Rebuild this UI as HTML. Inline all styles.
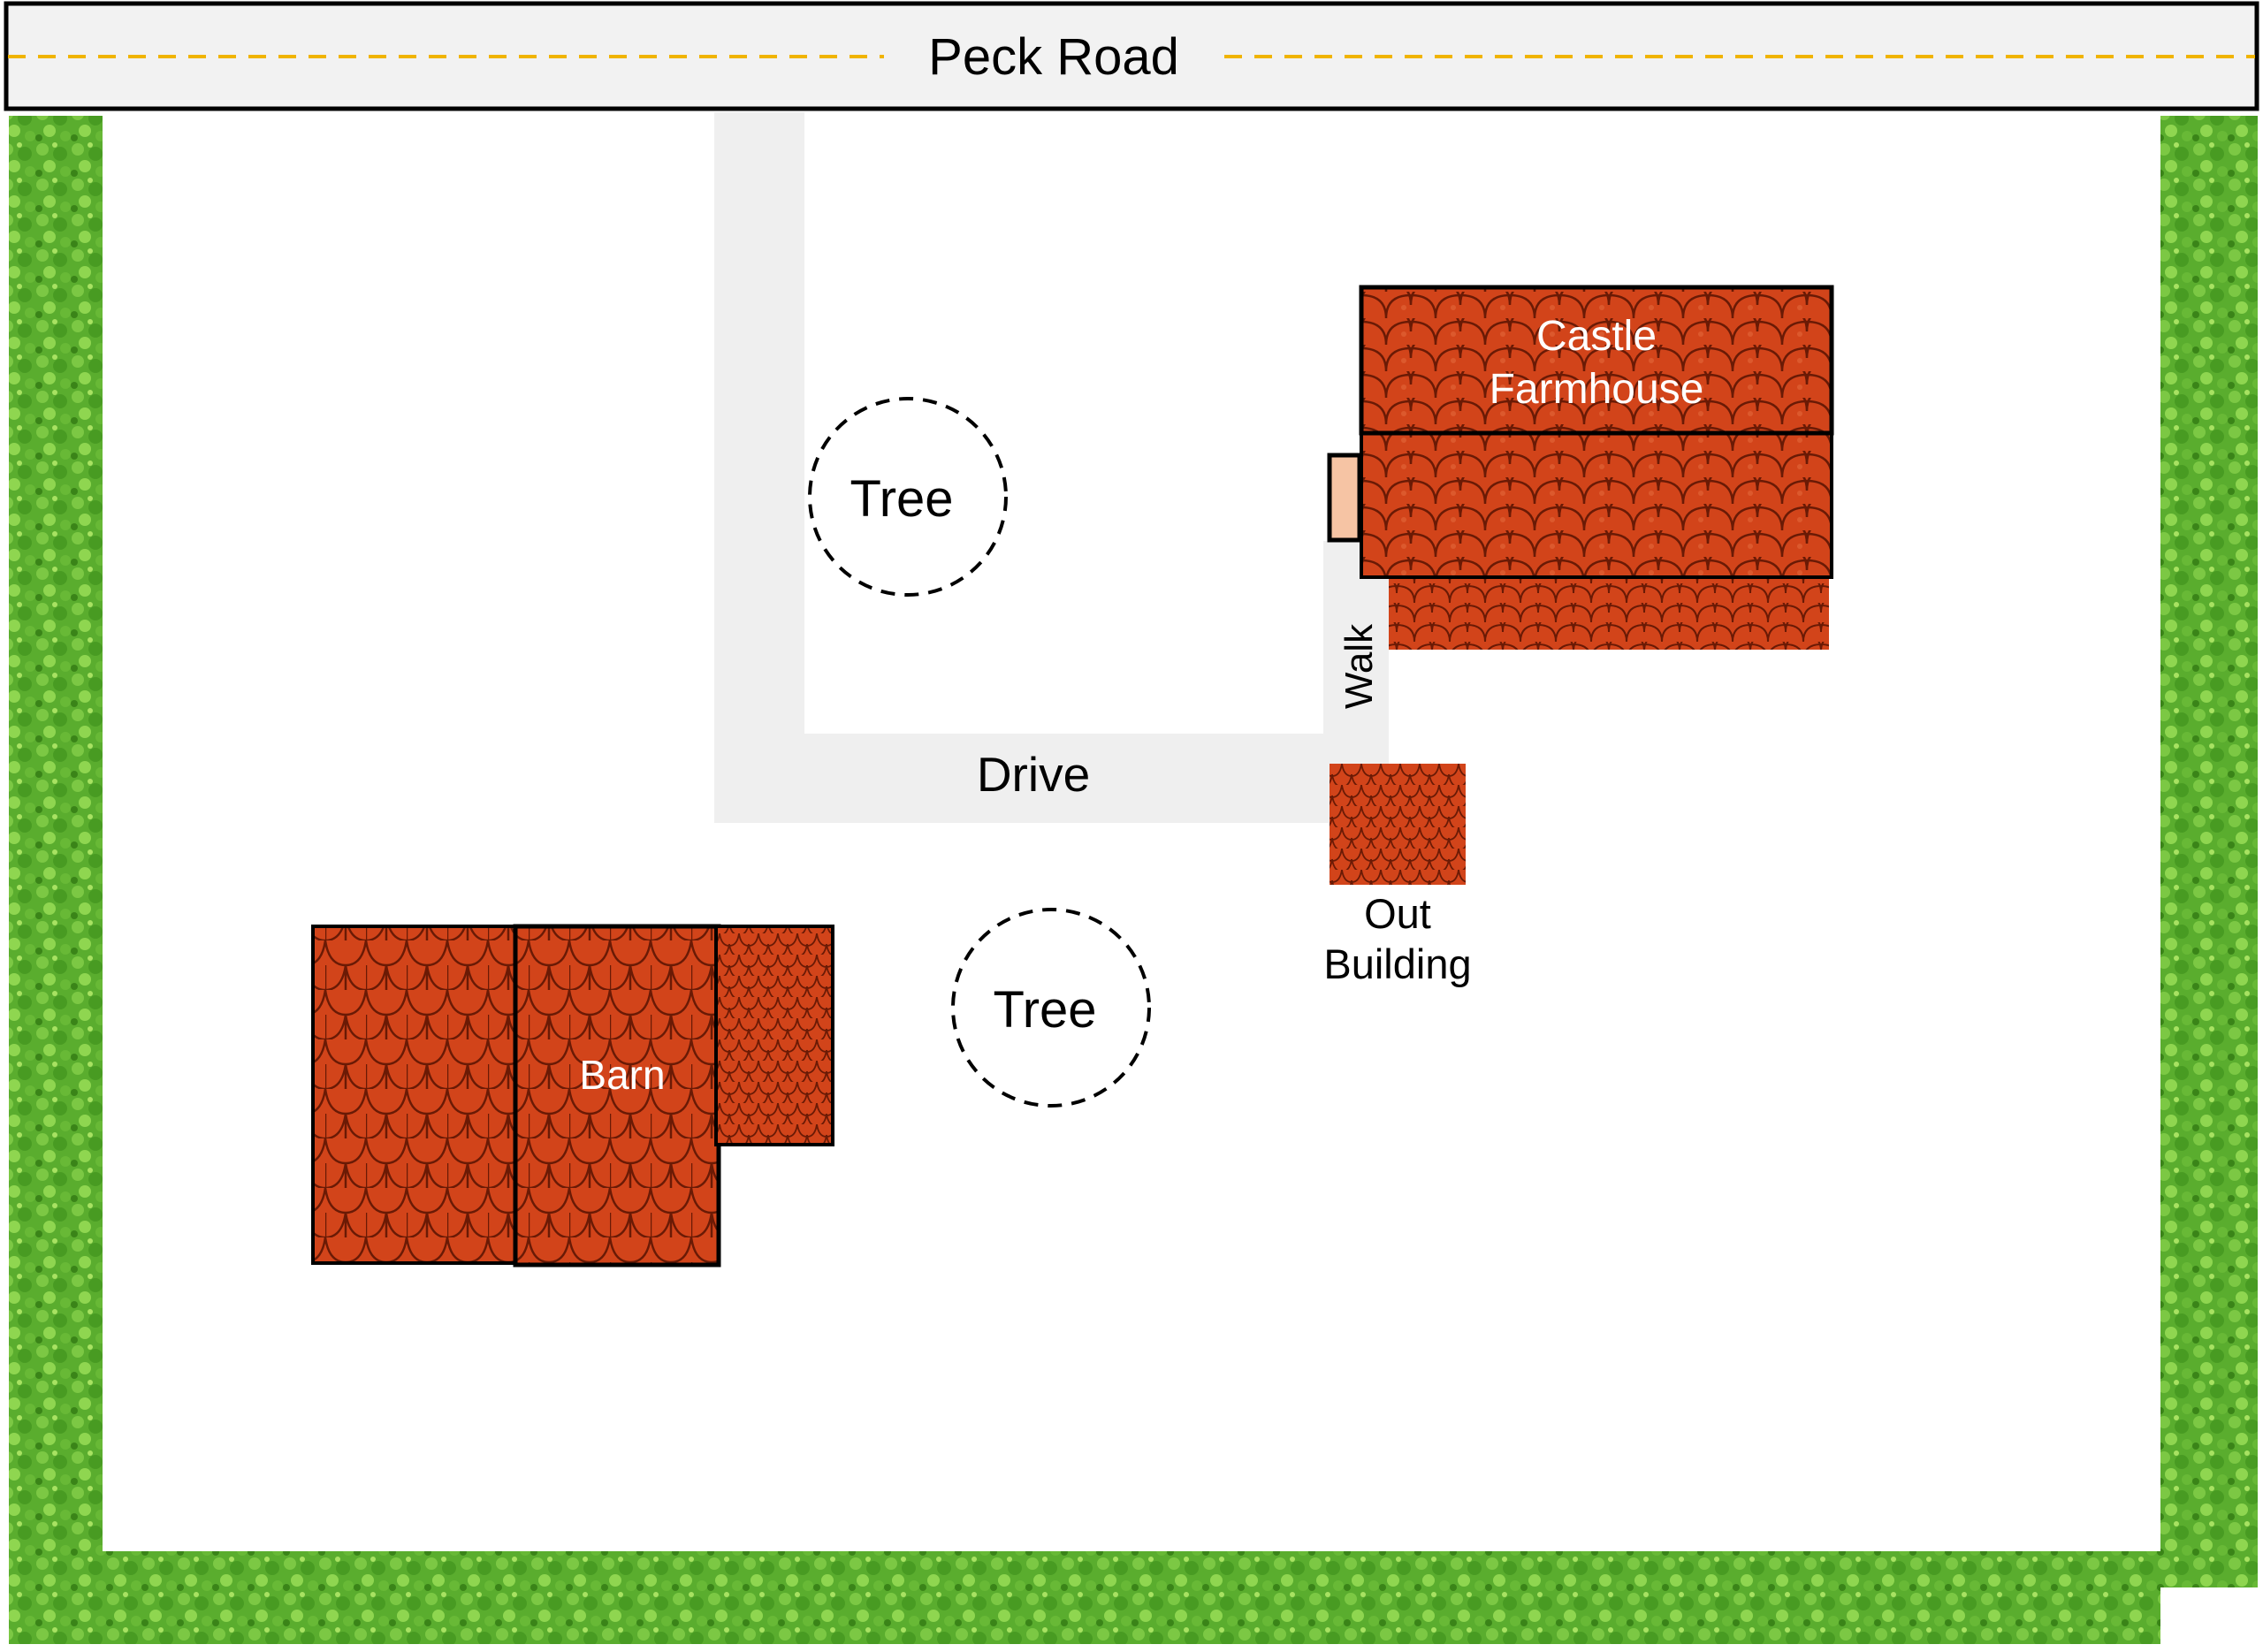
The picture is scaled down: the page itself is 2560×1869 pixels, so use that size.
<!DOCTYPE html>
<html><head><meta charset="utf-8"><style>
html,body{margin:0;padding:0;background:#fff;}
svg{display:block;}
text{font-family:"Liberation Sans","DejaVu Sans",sans-serif;}
</style></head><body>
<svg width="2560" height="1869" viewBox="0 0 2560 1869" xmlns="http://www.w3.org/2000/svg">
<defs>
<pattern id="roof" width="56" height="30" patternUnits="userSpaceOnUse">
<rect width="56" height="30" fill="#d2441a"/>
<path d="M0 30 Q0 4 28 4 Q56 4 56 30" fill="none" stroke="#6a1a05" stroke-width="2.5"/>
<path d="M-28 15 Q-28 -11 0 -11 Q28 -11 28 15 M28 15 Q28 -11 56 -11 Q84 -11 84 15" fill="none" stroke="#6a1a05" stroke-width="2.5"/>
<circle cx="20" cy="18" r="3" fill="#e2683a" opacity=".6"/>
</pattern>
<pattern id="roof2" width="40" height="22" patternUnits="userSpaceOnUse">
<rect width="40" height="22" fill="#d2441a"/>
<path d="M0 22 Q0 3 20 3 Q40 3 40 22" fill="none" stroke="#6a1a05" stroke-width="2"/>
<path d="M-20 11 Q-20 -8 0 -8 Q20 -8 20 11 M20 11 Q20 -8 40 -8 Q60 -8 60 11" fill="none" stroke="#6a1a05" stroke-width="2"/>
</pattern>
<pattern id="roofv" width="46" height="56" patternUnits="userSpaceOnUse">
<rect width="46" height="56" fill="#d2441a"/>
<path d="M0 0 Q4 28 23 28 Q42 28 46 0" fill="none" stroke="#6a1a05" stroke-width="2.5"/>
<path d="M0 28 Q0 56 0 56 M23 28 L23 56" fill="none" stroke="#6a1a05" stroke-width="2.5"/>
<path d="M-23 28 Q-19 56 0 56 Q19 56 23 28 M23 28 Q27 56 46 56 Q65 56 69 28" fill="none" stroke="#6a1a05" stroke-width="2.5"/>
</pattern>
<pattern id="roofs" width="22" height="24" patternUnits="userSpaceOnUse">
<rect width="22" height="24" fill="#d2441a"/>
<path d="M0 0 Q2 14 11 14 Q20 14 22 0 M-11 12 Q-9 26 0 26 Q9 26 11 12 M11 12 Q13 26 22 26 Q31 26 33 12" fill="none" stroke="#6a1a05" stroke-width="1.8"/>
</pattern>
<pattern id="hedge" width="40" height="40" patternUnits="userSpaceOnUse">
<rect width="40" height="40" fill="#5aad2e"/>
<circle cx="8" cy="9" r="7" fill="#7cc844"/>
<circle cx="28" cy="14" r="8" fill="#489b22"/>
<circle cx="16" cy="28" r="7" fill="#8fd650"/>
<circle cx="34" cy="34" r="6" fill="#68b936"/>
<circle cx="4" cy="36" r="4" fill="#3a8418"/>
<circle cx="22" cy="4" r="3" fill="#a8e262"/>
</pattern>
</defs>

<!-- hedges -->
<rect x="10" y="131" width="106" height="1729" fill="url(#hedge)"/>
<rect x="2444" y="131" width="110" height="1665" fill="url(#hedge)"/>
<rect x="113" y="1755" width="2331" height="105" fill="url(#hedge)"/>
<rect x="2444" y="1755" width="30" height="40" fill="url(#hedge)"/>

<!-- road -->
<rect x="7" y="4" width="2546" height="119" fill="#f2f2f2" stroke="#000" stroke-width="5"/>
<line x1="9" y1="64" x2="1000" y2="64" stroke="#f0b400" stroke-width="4" stroke-dasharray="20 14"/>
<line x1="1385" y1="64" x2="2551" y2="64" stroke="#f0b400" stroke-width="4" stroke-dasharray="20 14"/>
<text x="1192" y="84" font-size="58" text-anchor="middle" fill="#000">Peck Road</text>

<!-- drive / walk -->
<rect x="808" y="127" width="102" height="804" fill="#efefef"/>
<rect x="808" y="830" width="763" height="101" fill="#efefef"/>
<rect x="1497" y="612" width="74" height="245" fill="#efefef"/>
<text x="1169" y="895" font-size="55" text-anchor="middle" fill="#000">Drive</text>
<text transform="translate(1552,754) rotate(-90)" font-size="44" text-anchor="middle" fill="#000">Walk</text>

<!-- trees -->
<circle cx="1027" cy="562" r="111" fill="none" stroke="#000" stroke-width="4" stroke-dasharray="16 11"/>
<text x="1020" y="584" font-size="58" text-anchor="middle" fill="#000">Tree</text>
<circle cx="1189" cy="1140" r="111" fill="none" stroke="#000" stroke-width="4" stroke-dasharray="16 11"/>
<text x="1182" y="1162" font-size="58" text-anchor="middle" fill="#000">Tree</text>

<!-- farmhouse -->
<rect x="1571" y="653" width="498" height="82" fill="url(#roof2)"/>
<rect x="1540" y="490" width="532" height="163" fill="url(#roof)" stroke="#000" stroke-width="4"/>
<rect x="1540" y="325" width="532" height="165" fill="url(#roof)" stroke="#000" stroke-width="5"/>
<rect x="1504" y="515" width="34" height="96" fill="#f6c4a4" stroke="#000" stroke-width="5"/>
<text x="1806" y="396" font-size="48" text-anchor="middle" fill="#fff">Castle</text>
<text x="1806" y="456" font-size="48" text-anchor="middle" fill="#fff">Farmhouse</text>

<!-- out building -->
<rect x="1504" y="864" width="154" height="137" fill="url(#roofs)"/>
<text x="1581" y="1050" font-size="47" text-anchor="middle" fill="#000">Out</text>
<text x="1581" y="1107" font-size="47" text-anchor="middle" fill="#000">Building</text>

<!-- barn -->
<rect x="354" y="1048" width="229" height="381" fill="url(#roofv)" stroke="#000" stroke-width="4"/>
<rect x="583" y="1048" width="230" height="383" fill="url(#roofv)" stroke="#000" stroke-width="5"/>
<rect x="810" y="1048" width="132" height="247" fill="url(#roofs)" stroke="#000" stroke-width="4"/>
<text x="704" y="1232" font-size="46" text-anchor="middle" fill="#fff">Barn</text>
</svg>
</body></html>
